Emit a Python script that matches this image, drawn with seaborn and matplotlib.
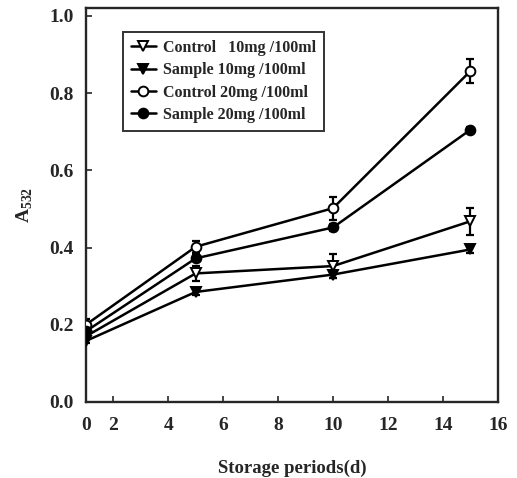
import seaborn as sns
import matplotlib.pyplot as plt
import pandas as pd

# storage days (first point sits at the origin of the drawn axis)
days = [1, 5, 10, 15]

ctrl10 = [0.170, 0.333, 0.352, 0.468]
ctrl10_err = [0.010, 0.020, 0.030, 0.035]
samp10 = [0.158, 0.285, 0.330, 0.395]
samp10_err = [0.006, 0.008, 0.008, 0.008]
ctrl20 = [0.200, 0.402, 0.502, 0.857]
ctrl20_err = [0.015, 0.015, 0.030, 0.030]
samp20 = [0.183, 0.372, 0.452, 0.705]
samp20_err = [0.006, 0.008, 0.008, 0.006]

labels = ["Control   10mg /100ml", "Sample 10mg /100ml",
          "Control 20mg /100ml", "Sample 20mg /100ml"]

xticks = [1, 2, 4, 6, 8, 10, 12, 14, 16]
xticklabels = ["0", "2", "4", "6", "8", "10", "12", "14", "16"]
yticks = [0.0, 0.2, 0.4, 0.6, 0.8, 1.0]

sns.set_style("ticks")
plt.rcParams['font.family'] = ['Liberation Serif', 'DejaVu Serif']
plt.rcParams['font.weight'] = 'bold'
plt.rcParams['mathtext.fontset'] = 'custom'
plt.rcParams['mathtext.rm'] = 'Liberation Serif:bold'
plt.rcParams['mathtext.bf'] = 'Liberation Serif:bold'

fig = plt.figure(figsize=(5.17, 4.78), dpi=100)
ax = fig.add_axes([0.166, 0.159, 0.797, 0.824])

series = [
    (ctrl10, ctrl10_err, 'v', 'white', labels[0]),
    (samp10, samp10_err, 'v', 'black', labels[1]),
    (ctrl20, ctrl20_err, 'o', 'white', labels[2]),
    (samp20, samp20_err, 'o', 'black', labels[3]),
]

for vals, errs, mk, fc, lab in series:
    df = pd.DataFrame({"day": days, "A": vals})
    ax.errorbar(days, vals, yerr=errs, fmt='none', ecolor='black',
                elinewidth=1.6, capsize=3, capthick=1.6, zorder=2)
    sns.lineplot(data=df, x="day", y="A", ax=ax, color='black',
                 marker=mk, markersize=7, markerfacecolor=fc,
                 markeredgecolor='black', markeredgewidth=1.4,
                 linewidth=1.8, label=lab, zorder=3)

ax.set_xlim(1, 16)
ax.set_ylim(0, 1.02)
ax.set_xticks(xticks)
ax.set_xticklabels(xticklabels)
ax.set_yticks(yticks)
ax.set_yticklabels([f"{v:.1f}" for v in yticks])
ax.tick_params(direction='in', length=4, width=1.2, labelsize=14)
ax.tick_params(axis='x', pad=11)
ax.tick_params(axis='y', pad=9)
for lbl in ax.get_xticklabels() + ax.get_yticklabels():
    lbl.set_fontweight('bold')
for sp in ax.spines.values():
    sp.set_linewidth(1.7)
    sp.set_visible(True)

ax.set_xlabel("Storage periods(d)", fontsize=13.5, fontweight='bold', labelpad=18)
ax.set_ylabel(r"A$_{\mathbf{532}}$", fontsize=14, fontweight='bold', labelpad=10)

leg = ax.legend(loc='upper left', bbox_to_anchor=(0.07, 0.96), fontsize=11.5,
                frameon=True, fancybox=False, handlelength=1.6,
                handletextpad=0.4, borderpad=0.5, labelspacing=0.4)
leg.get_frame().set_edgecolor('black')
leg.get_frame().set_linewidth(1.4)
for t in leg.get_texts():
    t.set_fontweight('bold')

fig.savefig("out.png", dpi=100)
